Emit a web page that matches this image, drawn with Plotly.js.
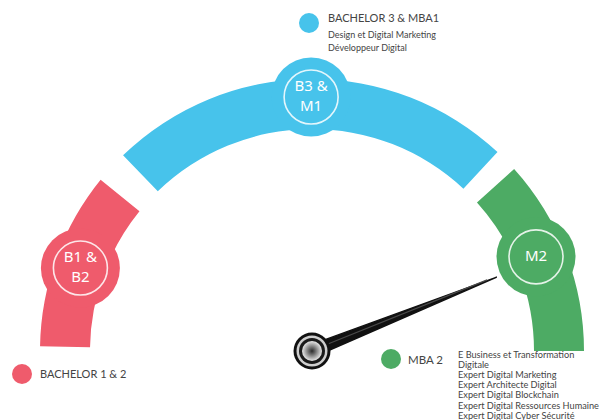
<!DOCTYPE html>
<html>
<head>
<meta charset="utf-8">
<script src="https://cdn.plot.ly/plotly-3.0.1.min.js"></script>
<style>html,body{margin:0;padding:0;background:#fff;}#chart{width:614px;height:420px;}</style>
</head>
<body>
<div id="chart"></div>
<script>
// ---- data ----
const segments = ['B1 & B2', 'B3 & M1', 'M2'];
const segStart = [141, 47, 0];      // degrees
const segEnd = [179, 134, 42];
const segColors = ['#EF5B6C', '#47C3EB', '#4DAB64'];
const bandInner = 222;
const bandThickness = 50;
const bubbleLabels = ['B1 &<br>B2', 'B3 &<br>M1', 'M2'];
const bubbleTheta = [160.3, 90.2, 22.8];
const bubbleR = [246, 254, 243];
const needleAngle = 21.8;
const needleLength = 199;

const legendTitles = ['BACHELOR 1 & 2', 'BACHELOR 3 & MBA1', 'MBA 2'];
const legendDetails = [
  [],
  ['Design et Digital Marketing', 'Développeur Digital'],
  ['E Business et Transformation', 'Digitale', 'Expert Digital Marketing', 'Expert Architecte Digital',
   'Expert Digital Blockchain', 'Expert Digital Ressources Humaine', 'Expert Digital Cyber Sécurité']
];

// ---- layout helpers ----
const FONT = 'Lato, "Open Sans", sans-serif';
const W = 614, H = 420;
const legendDot = [[22, 374], [309, 23], [391, 359]];
const legendTitlePos = [[38, 373], [326, 18], [406, 359]];
const legendTitleSize = [11, 11, 11.5];
const legendDetailPos = [[0, 0], [326, 34], [456, 354.5]];
const legendDetailStep = [0, 13, 10.1];
const legendDetailSize = [9, 9, 9.2];

const traces = [];

// gauge bands
traces.push({
  type: 'barpolar',
  subplot: 'polar',
  theta: segStart.map((s, i) => (s + segEnd[i]) / 2),
  width: segStart.map((s, i) => segEnd[i] - s),
  r: segments.map(() => bandThickness),
  base: segments.map(() => bandInner),
  marker: {color: segColors, line: {width: 0}},
  hoverinfo: 'skip',
  showlegend: false
});

// bubbles
traces.push({
  type: 'scatterpolar', subplot: 'polar', mode: 'markers',
  r: bubbleR, theta: bubbleTheta, cliponaxis: false,
  marker: {size: 79, color: segColors, line: {width: 0}},
  hoverinfo: 'skip', showlegend: false
});
traces.push({
  type: 'scatterpolar', subplot: 'polar', mode: 'markers+text',
  r: bubbleR, theta: bubbleTheta, cliponaxis: false,
  text: bubbleLabels, textposition: 'middle center',
  textfont: {family: '"Noto Sans", sans-serif', size: 15, color: '#ffffff'},
  marker: {size: 54, color: 'rgba(0,0,0,0)', line: {width: 1.6, color: 'rgba(255,255,255,0.85)'}},
  hoverinfo: 'skip', showlegend: false
});

// needle
traces.push({
  type: 'scatterpolar', subplot: 'polar', mode: 'lines',
  r: [16, needleLength, 16, 16],
  theta: [needleAngle + 21, needleAngle, needleAngle - 21, needleAngle + 21],
  fill: 'toself', fillcolor: '#111111', cliponaxis: false,
  line: {color: '#111111', width: 1.5},
  hoverinfo: 'skip', showlegend: false
});
traces.push({
  type: 'scatterpolar', subplot: 'polar', mode: 'lines',
  r: [16, needleLength - 10], theta: [needleAngle + 2, needleAngle + 0.3], cliponaxis: false,
  line: {color: '#4a4a4a', width: 1.2},
  hoverinfo: 'skip', showlegend: false
});

// hub (layered)
const hubSizes = [37, 31, 26, 20];
const hubColors = ['#111111', '#cfcfcf', '#1a1a1a', '#9a9a9a'];
hubSizes.forEach((s, i) => {
  traces.push({
    type: 'scatterpolar', subplot: 'polar', mode: 'markers',
    r: [0], theta: [0], cliponaxis: false,
    marker: i === 3 ? {size: s, color: '#e8e8e8', gradient: {type: 'radial', color: '#2a2a2a'}, line: {width: 0}}
                    : {size: s, color: hubColors[i], line: {width: 0}},
    hoverinfo: 'skip', showlegend: false
  });
});

// legend dots
traces.push({
  type: 'scatter', xaxis: 'x', yaxis: 'y', mode: 'markers',
  x: legendDot.map(p => p[0]), y: legendDot.map(p => p[1]),
  marker: {size: 20, color: segColors, line: {width: 0}},
  cliponaxis: false, hoverinfo: 'skip', showlegend: false
});

const annotations = [];
legendTitles.forEach((t, i) => {
  annotations.push({
    xref: 'paper', yref: 'paper', x: legendTitlePos[i][0] / W, y: 1 - legendTitlePos[i][1] / H,
    text: t, showarrow: false, xanchor: 'left', yanchor: 'middle',
    font: {family: FONT, size: legendTitleSize[i], color: '#444444'}
  });
  legendDetails[i].forEach((d, j) => {
    annotations.push({
      xref: 'paper', yref: 'paper', x: legendDetailPos[i][0] / W,
      y: 1 - (legendDetailPos[i][1] + j * legendDetailStep[i]) / H,
      text: d, showarrow: false, xanchor: 'left', yanchor: 'middle',
      font: {family: FONT, size: legendDetailSize[i], color: '#444444'}
    });
  });
});

const layout = {
  width: W, height: H,
  margin: {l: 0, r: 0, t: 0, b: 0},
  paper_bgcolor: '#ffffff', plot_bgcolor: 'rgba(0,0,0,0)',
  showlegend: false,
  polar: {
    domain: {x: [12 / W, 612 / W], y: [69 / H, 369 / H]},
    sector: [0, 180],
    hole: 0,
    bgcolor: 'rgba(0,0,0,0)',
    radialaxis: {range: [0, 300], visible: false, showgrid: false},
    angularaxis: {visible: false, showgrid: false, direction: 'counterclockwise', rotation: 0},
    barmode: 'overlay'
  },
  xaxis: {range: [0, W], domain: [0, 1], visible: false, fixedrange: true},
  yaxis: {range: [H, 0], domain: [0, 1], visible: false, fixedrange: true},
  annotations: annotations
};

Plotly.newPlot('chart', traces, layout, {displayModeBar: false, staticPlot: true});
</script>
</body>
</html>
